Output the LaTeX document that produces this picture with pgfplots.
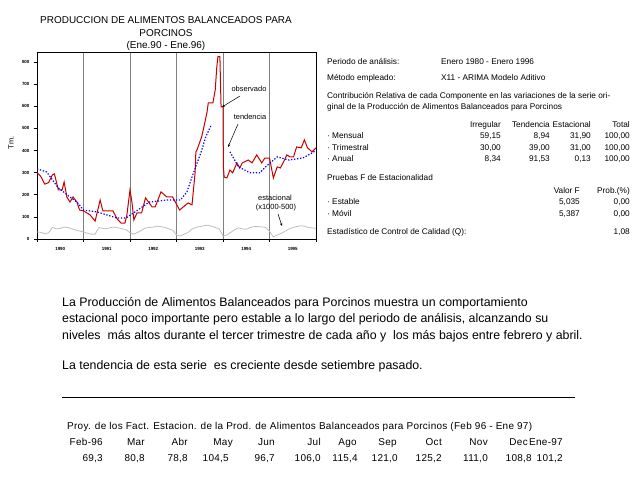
\documentclass[border=0pt]{standalone}
\usepackage{pgfplots}
\pgfplotsset{compat=1.18}
\usepackage{fontspec}
\setmainfont{Liberation Sans}
\newfontfamily\spaced[LetterSpace=3]{Liberation Sans}
\usetikzlibrary{arrows.meta}
\definecolor{obsred}{RGB}{200,0,0}
\definecolor{trblue}{RGB}{0,0,255}
\definecolor{segray}{RGB}{190,190,190}
\definecolor{gridgray}{RGB}{128,128,128}
\begin{document}
\begin{tikzpicture}
\path (0,0) rectangle (640bp,-480bp);
\begin{axis}[
 at={(37bp,-239bp)}, anchor=south west,
 scale only axis, width=279bp, height=187bp,
 xmin=0, xmax=72, ymin=0, ymax=845,
 xtick={6,18,30,42,54,66},
 xticklabels={1990,1991,1992,1993,1994,1995},
 major x tick style={draw=none},
 minor xtick={0,12,24,36,48,60,72},
 minor tick length=3bp,
 xminorgrids, minor x grid style={gridgray, line width=0.9bp},
 ytick={0,100,...,800},
 ytick pos=left, xtick pos=bottom,
 tick align=outside,
 major tick length=3bp,
 tick style={black, line width=0.6bp},
 ticklabel style={font=\fontsize{4.5}{5}\selectfont\bfseries},
 /pgf/number format/assume math mode=true,
 yticklabel style={xshift=-1bp},
 xticklabel style={yshift=-2bp},
 axis line style={line width=0.8bp},
 unbounded coords=jump,
]
\addplot[segray, line width=0.8bp] coordinates {
(0,32)(1,30)(2,24)(3,28)(4,52)(5,46)(6,48)(7,54)(8,52)(9,46)(10,40)(11,36)
(12,32)(13,26)(14,22)(15,22)(16,52)(17,48)(18,46)(19,52)(20,54)(21,50)(22,46)(23,42)
(24,28)(25,22)(26,30)(27,40)(28,50)(29,52)(30,54)(31,58)(32,56)(33,52)(34,46)(35,40)
(36,18)(37,14)(38,22)(39,30)(40,45)(41,52)(42,56)(43,60)(44,62)(45,58)(46,52)(47,46)
(48,14)(49,18)(50,30)(51,42)(52,50)(53,46)(54,44)(55,52)(56,56)(57,56)(58,55)(59,52)
(60,35)(61,9)(62,18)(63,25)(64,35)(65,45)(66,52)(67,56)(68,60)(69,58)(70,52)(71,50)(72,48)
};
\addplot[obsred, line width=1bp] coordinates {
(0,300)(1,282)(2,248)(3,255)(4,290)(4.5,294)(5.5,222)(6.5,222)(7,258)(7.7,190)
(8.5,167)(9.3,190)(10.3,167)(11,131)(12,127)(13.7,109)(15,81)(16.3,176)(17,127)
(19.6,127)(20.7,90)(21.7,72)(22.7,72)(23.2,109)(24,222)(24.5,167)(25,86)(25.8,118)
(27,118)(28,186)(29.7,145)(30.5,145)(32,213)(33.5,190)(35,190)(36.8,131)(39,163)
(40,154)(40.8,299)(41,394)(41.3,403)(42.5,462)(43.3,525)(43.9,575)(44.2,615)
(45.4,615)(46,674)(46.4,778)(46.7,824)(47.2,824)(47.5,597)(48,597)(48.1,326)
(48.3,280)(49,276)(49.8,312)(50.5,299)(51.6,344)(52.3,321)(53,344)(54.5,357)
(55.5,344)(56.7,380)(58,344)(58.8,366)(60,366)(61,276)(62,326)(62.8,321)(63.5,344)
(64.5,380)(65.3,371)(66.2,371)(67,416)(68.2,412)(69,448)(69.8,412)(71,394)(72,412)
};
\addplot[trblue, line width=1.2bp, dash pattern=on 1.3bp off 1.7bp] coordinates {
(0,317)(2.5,303)(5.5,231)(8.5,190)(10.3,167)(12,131)(15.5,122)(18,109)(20.6,95)
(23,95)(26,131)(29,167)(33.5,176)(37,176)(38.7,213)(40,280)(41.6,357)(42.5,400)
(43.5,460)(45,516)(46,nan)(49.8,394)(51,357)(52,326)(55,299)(57.5,299)(59,326)
(62,371)(65,357)(68.6,366)(71,389)(72,400)
};
\end{axis}
\begin{scope}[x=1bp,y=-1bp]
% title
\node[font=\fontsize{10}{12}\selectfont] at (166,20) {PRODUCCION DE ALIMENTOS BALANCEADOS PARA};
\node[font=\fontsize{10}{12}\selectfont] at (166,33) {PORCINOS};
\node[font=\fontsize{10}{12}\selectfont] at (166,46) {(Ene.90 - Ene.96)};
\node[font=\fontsize{7.5}{9}\selectfont, rotate=90] at (11,143) {Tm.};
% annotations
\node[font=\fontsize{7.5}{9}\selectfont] at (249,89) {observado};
\draw[line width=0.5bp, -{Stealth[length=3bp,width=2.5bp]}] (240,96) -- (222,107);
\node[font=\fontsize{7.5}{9}\selectfont] at (250,117) {tendencia};
\draw[line width=0.5bp, -{Stealth[length=3bp,width=2.5bp]}] (238,124) -- (228,147);
\node[font=\fontsize{7.5}{9}\selectfont] at (275,198) {estacional};
\node[font=\fontsize{7.5}{9}\selectfont] at (276,208) {(x1000-500)};
\draw[line width=0.5bp, -{Stealth[length=3bp,width=2.5bp]}] (278,214) -- (282,226);
% right text
\begin{scope}[every node/.style={font=\fontsize{8.3}{10}\selectfont, inner sep=0pt}]
\node[anchor=base west] at (327,64) {Periodo de análisis:};
\node[anchor=base west] at (441,64) {Enero 1980 - Enero 1996};
\node[anchor=base west] at (327,80) {Método empleado:};
\node[anchor=base west] at (441,80) {X11 - ARIMA Modelo Aditivo};
\node[anchor=base west] at (327,98) {Contribución Relativa de cada Componente en las variaciones de la serie ori-};
\node[anchor=base west] at (327,109) {ginal de la Producción de Alimentos Balanceados para Porcinos};
\node[anchor=base east] at (501,127) {Irregular};
\node[anchor=base east] at (550,127) {Tendencia};
\node[anchor=base east] at (591,127) {Estacional};
\node[anchor=base east] at (630,127) {Total};
\node[anchor=base west] at (327,138) {· Mensual};
\node[anchor=base east] at (501,138) {59,15};
\node[anchor=base east] at (550,138) {8,94};
\node[anchor=base east] at (591,138) {31,90};
\node[anchor=base east] at (630,138) {100,00};
\node[anchor=base west] at (327,150) {· Trimestral};
\node[anchor=base east] at (501,150) {30,00};
\node[anchor=base east] at (550,150) {39,00};
\node[anchor=base east] at (591,150) {31,00};
\node[anchor=base east] at (630,150) {100,00};
\node[anchor=base west] at (327,161) {· Anual};
\node[anchor=base east] at (501,161) {8,34};
\node[anchor=base east] at (550,161) {91,53};
\node[anchor=base east] at (591,161) {0,13};
\node[anchor=base east] at (630,161) {100,00};
\node[anchor=base west] at (327,180) {Pruebas F de Estacionalidad};
\node[anchor=base east] at (580,193) {Valor F};
\node[anchor=base east] at (630,193) {Prob.(\%)};
\node[anchor=base west] at (327,204) {· Estable};
\node[anchor=base east] at (580,204) {5,035};
\node[anchor=base east] at (630,204) {0,00};
\node[anchor=base west] at (327,216) {· Móvil};
\node[anchor=base east] at (580,216) {5,387};
\node[anchor=base east] at (630,216) {0,00};
\node[anchor=base west] at (327,234) {Estadístico de Control de Calidad (Q):};
\node[anchor=base east] at (630,234) {1,08};
\end{scope}
% paragraph
\begin{scope}[every node/.style={font=\fontsize{12.4}{14}\selectfont, inner sep=0pt, anchor=base west}]
\node at (62,306.5) {La Producción de Alimentos Balanceados para Porcinos muestra un comportamiento};
\node at (62,322.5) {estacional poco importante pero estable a lo largo del periodo de análisis, alcanzando su};
\node at (62,339.5) {niveles\ \ más altos durante el tercer trimestre de cada año y\ \ los más bajos entre febrero y abril.};
\node at (62,369.5) {La tendencia de esta serie\ \ es creciente desde setiembre pasado.};
\end{scope}
\draw[line width=0.7bp] (62,397) -- (575,397);
% projection table
\begin{scope}[every node/.style={font=\fontsize{10}{12}\spaced\selectfont, inner sep=0pt}]
\node[anchor=base west] at (67,429.5) {Proy. de los Fact. Estacion. de la Prod. de Alimentos Balanceados para Porcinos (Feb 96 - Ene 97)};
\foreach \xa/\xb/\mm/\vv in {103/103/Feb-96/{69,3},145/145/Mar/{80,8},188/188/Abr/{78,8},233/229/May/{104,5},275/275/Jun/{96,7},321/321/Jul/{106,0},357/358/Ago/{115,4},397/398/Sep/{121,0},442/442/Oct/{125,2},488/488/Nov/{111,0},528/532/Dec/{108,8},563/563/Ene-97/{101,2}}{
\node[anchor=base east] at (\xa,445.5) {\mm};
\node[anchor=base east] at (\xb,461.5) {\vv};
}
\end{scope}
\end{scope}
\end{tikzpicture}
\end{document}
